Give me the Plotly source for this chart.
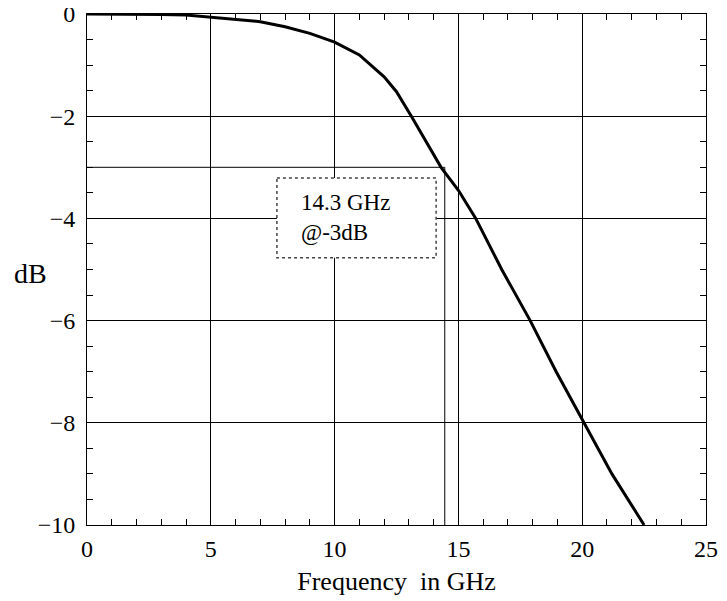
import plotly.graph_objects as go

# Data
freq_ghz = [0, 1, 2, 3, 4, 5, 6, 7, 8, 9, 10, 11, 12, 12.5, 13.1, 13.7, 14.3,
            15, 15.7, 16.75, 17.9, 18.95, 20.07, 21.2, 22.5]
gain_db = [0, 0, -0.01, -0.01, -0.02, -0.06, -0.1, -0.15, -0.25, -0.38, -0.55,
           -0.8, -1.23, -1.52, -2, -2.5, -3, -3.45, -4, -5, -6, -7, -8, -9, -10]

cutoff_ghz = 14.45
cutoff_db = -3
x_range = [0, 25]
y_range = [-10, 0]
x_ticks = [0, 5, 10, 15, 20, 25]
y_ticks = [0, -2, -4, -6, -8, -10]

FONT = "Liberation Serif, Times New Roman, serif"

W, H = 727, 601
ML, MR, MT, MB = 79, 29, 6, 84

fig = go.Figure()
fig.add_trace(go.Scatter(x=freq_ghz, y=gain_db, mode="lines",
                         line=dict(color="black", width=3), showlegend=False))

# -3 dB marker lines
fig.add_shape(type="line", xref="x", yref="y", x0=x_range[0], x1=cutoff_ghz,
              y0=cutoff_db, y1=cutoff_db, line=dict(color="black", width=1), layer="below")
fig.add_shape(type="line", xref="x", yref="y", x0=cutoff_ghz, x1=cutoff_ghz,
              y0=cutoff_db, y1=y_range[0], line=dict(color="black", width=1), layer="below")

# annotation box
fig.add_shape(type="rect", xref="x", yref="y", x0=7.67, x1=14.1, y0=-3.21, y1=-4.77,
              line=dict(color="#444", width=1.5, dash="dot"), fillcolor="white", layer="above")
fig.add_annotation(x=8.55, y=-3.99, xref="x", yref="y", xanchor="left",
                   text="14.3 GHz<br>@-3dB", showarrow=False, align="left",
                   font=dict(family=FONT, size=23, color="black"))

plot_w = W - ML - MR
plot_h = H - MT - MB
fig.add_annotation(x=(4 - ML) / plot_w, y=1 - (265 - MT) / plot_h,
                   xref="paper", yref="paper", xanchor="left", yanchor="middle",
                   text="dB", showarrow=False,
                   font=dict(family=FONT, size=28, color="black"))

axis_common = dict(showline=True, linecolor="black", linewidth=1, mirror="ticks",
                   showgrid=True, gridcolor="black", gridwidth=1, zeroline=False,
                   ticks="inside", ticklen=8, tickcolor="black", automargin=False,
                   ticklabeloverflow="allow",
                   tickfont=dict(family=FONT, size=24, color="black"))

fig.update_xaxes(range=x_range, tickvals=x_ticks, **axis_common, ticklabelstandoff=2,
                 minor=dict(dtick=1, ticks="inside", ticklen=6, tickcolor="black", showgrid=False),
                 title=dict(text="Frequency  in GHz", font=dict(family=FONT, size=26, color="black"),
                            standoff=11))
fig.update_yaxes(range=y_range, tickvals=y_ticks, **axis_common, ticklabelstandoff=6,
                 minor=dict(dtick=0.5, ticks="inside", ticklen=6, tickcolor="black", showgrid=False))

fig.update_layout(width=W, height=H, margin=dict(l=ML, r=MR, t=MT, b=MB),
                  plot_bgcolor="white", paper_bgcolor="white")

fig.write_html("out.html")
